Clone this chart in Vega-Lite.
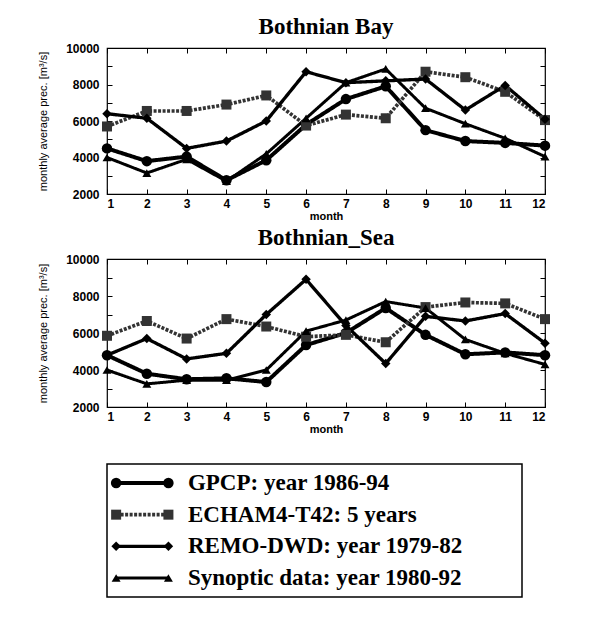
{
  "$schema": "https://vega.github.io/schema/vega-lite/v6.json",
  "padding": {"left": 37, "top": 15, "right": 5, "bottom": 5},
  "background": "white",
  "config": {
    "view": {"stroke": "black", "strokeWidth": 1.2},
    "axis": {"domain": false, "grid": false, "tickColor": "black", "tickWidth": 1, "labelColor": "black", "titleColor": "black"}
  },
  "datasets": {
    "prec": [
      {"basin":"Bay","month":1,"series":"GPCP: year 1986-94","value":4500},
      {"basin":"Bay","month":2,"series":"GPCP: year 1986-94","value":3800},
      {"basin":"Bay","month":3,"series":"GPCP: year 1986-94","value":4050},
      {"basin":"Bay","month":4,"series":"GPCP: year 1986-94","value":2750},
      {"basin":"Bay","month":5,"series":"GPCP: year 1986-94","value":3850},
      {"basin":"Bay","month":6,"series":"GPCP: year 1986-94","value":5800},
      {"basin":"Bay","month":7,"series":"GPCP: year 1986-94","value":7200},
      {"basin":"Bay","month":8,"series":"GPCP: year 1986-94","value":7900},
      {"basin":"Bay","month":9,"series":"GPCP: year 1986-94","value":5500},
      {"basin":"Bay","month":10,"series":"GPCP: year 1986-94","value":4900},
      {"basin":"Bay","month":11,"series":"GPCP: year 1986-94","value":4800},
      {"basin":"Bay","month":12,"series":"GPCP: year 1986-94","value":4650},
      {"basin":"Bay","month":1,"series":"ECHAM4-T42: 5 years","value":5700},
      {"basin":"Bay","month":2,"series":"ECHAM4-T42: 5 years","value":6550},
      {"basin":"Bay","month":3,"series":"ECHAM4-T42: 5 years","value":6550},
      {"basin":"Bay","month":4,"series":"ECHAM4-T42: 5 years","value":6900},
      {"basin":"Bay","month":5,"series":"ECHAM4-T42: 5 years","value":7400},
      {"basin":"Bay","month":6,"series":"ECHAM4-T42: 5 years","value":5750},
      {"basin":"Bay","month":7,"series":"ECHAM4-T42: 5 years","value":6350},
      {"basin":"Bay","month":8,"series":"ECHAM4-T42: 5 years","value":6150},
      {"basin":"Bay","month":9,"series":"ECHAM4-T42: 5 years","value":8700},
      {"basin":"Bay","month":10,"series":"ECHAM4-T42: 5 years","value":8400},
      {"basin":"Bay","month":11,"series":"ECHAM4-T42: 5 years","value":7600},
      {"basin":"Bay","month":12,"series":"ECHAM4-T42: 5 years","value":6050},
      {"basin":"Bay","month":1,"series":"REMO-DWD: year 1979-82","value":6400},
      {"basin":"Bay","month":2,"series":"REMO-DWD: year 1979-82","value":6150},
      {"basin":"Bay","month":3,"series":"REMO-DWD: year 1979-82","value":4500},
      {"basin":"Bay","month":4,"series":"REMO-DWD: year 1979-82","value":4900},
      {"basin":"Bay","month":5,"series":"REMO-DWD: year 1979-82","value":6000},
      {"basin":"Bay","month":6,"series":"REMO-DWD: year 1979-82","value":8700},
      {"basin":"Bay","month":7,"series":"REMO-DWD: year 1979-82","value":8100},
      {"basin":"Bay","month":8,"series":"REMO-DWD: year 1979-82","value":8200},
      {"basin":"Bay","month":9,"series":"REMO-DWD: year 1979-82","value":8300},
      {"basin":"Bay","month":10,"series":"REMO-DWD: year 1979-82","value":6600},
      {"basin":"Bay","month":11,"series":"REMO-DWD: year 1979-82","value":7950},
      {"basin":"Bay","month":12,"series":"REMO-DWD: year 1979-82","value":6100},
      {"basin":"Bay","month":1,"series":"Synoptic data: year 1980-92","value":4000},
      {"basin":"Bay","month":2,"series":"Synoptic data: year 1980-92","value":3150},
      {"basin":"Bay","month":3,"series":"Synoptic data: year 1980-92","value":3900},
      {"basin":"Bay","month":4,"series":"Synoptic data: year 1980-92","value":2700},
      {"basin":"Bay","month":5,"series":"Synoptic data: year 1980-92","value":4200},
      {"basin":"Bay","month":6,"series":"Synoptic data: year 1980-92","value":6150},
      {"basin":"Bay","month":7,"series":"Synoptic data: year 1980-92","value":8100},
      {"basin":"Bay","month":8,"series":"Synoptic data: year 1980-92","value":8850},
      {"basin":"Bay","month":9,"series":"Synoptic data: year 1980-92","value":6700},
      {"basin":"Bay","month":10,"series":"Synoptic data: year 1980-92","value":5850},
      {"basin":"Bay","month":11,"series":"Synoptic data: year 1980-92","value":5050},
      {"basin":"Bay","month":12,"series":"Synoptic data: year 1980-92","value":4050},
      {"basin":"Sea","month":1,"series":"GPCP: year 1986-94","value":4800},
      {"basin":"Sea","month":2,"series":"GPCP: year 1986-94","value":3800},
      {"basin":"Sea","month":3,"series":"GPCP: year 1986-94","value":3500},
      {"basin":"Sea","month":4,"series":"GPCP: year 1986-94","value":3550},
      {"basin":"Sea","month":5,"series":"GPCP: year 1986-94","value":3350},
      {"basin":"Sea","month":6,"series":"GPCP: year 1986-94","value":5350},
      {"basin":"Sea","month":7,"series":"GPCP: year 1986-94","value":6000},
      {"basin":"Sea","month":8,"series":"GPCP: year 1986-94","value":7350},
      {"basin":"Sea","month":9,"series":"GPCP: year 1986-94","value":5900},
      {"basin":"Sea","month":10,"series":"GPCP: year 1986-94","value":4850},
      {"basin":"Sea","month":11,"series":"GPCP: year 1986-94","value":4950},
      {"basin":"Sea","month":12,"series":"GPCP: year 1986-94","value":4800},
      {"basin":"Sea","month":1,"series":"ECHAM4-T42: 5 years","value":5850},
      {"basin":"Sea","month":2,"series":"ECHAM4-T42: 5 years","value":6650},
      {"basin":"Sea","month":3,"series":"ECHAM4-T42: 5 years","value":5700},
      {"basin":"Sea","month":4,"series":"ECHAM4-T42: 5 years","value":6750},
      {"basin":"Sea","month":5,"series":"ECHAM4-T42: 5 years","value":6350},
      {"basin":"Sea","month":6,"series":"ECHAM4-T42: 5 years","value":5800},
      {"basin":"Sea","month":7,"series":"ECHAM4-T42: 5 years","value":5900},
      {"basin":"Sea","month":8,"series":"ECHAM4-T42: 5 years","value":5500},
      {"basin":"Sea","month":9,"series":"ECHAM4-T42: 5 years","value":7400},
      {"basin":"Sea","month":10,"series":"ECHAM4-T42: 5 years","value":7650},
      {"basin":"Sea","month":11,"series":"ECHAM4-T42: 5 years","value":7600},
      {"basin":"Sea","month":12,"series":"ECHAM4-T42: 5 years","value":6750},
      {"basin":"Sea","month":1,"series":"REMO-DWD: year 1979-82","value":4800},
      {"basin":"Sea","month":2,"series":"REMO-DWD: year 1979-82","value":5700},
      {"basin":"Sea","month":3,"series":"REMO-DWD: year 1979-82","value":4600},
      {"basin":"Sea","month":4,"series":"REMO-DWD: year 1979-82","value":4900},
      {"basin":"Sea","month":5,"series":"REMO-DWD: year 1979-82","value":7000},
      {"basin":"Sea","month":6,"series":"REMO-DWD: year 1979-82","value":8900},
      {"basin":"Sea","month":7,"series":"REMO-DWD: year 1979-82","value":6400},
      {"basin":"Sea","month":8,"series":"REMO-DWD: year 1979-82","value":4350},
      {"basin":"Sea","month":9,"series":"REMO-DWD: year 1979-82","value":6900},
      {"basin":"Sea","month":10,"series":"REMO-DWD: year 1979-82","value":6650},
      {"basin":"Sea","month":11,"series":"REMO-DWD: year 1979-82","value":7050},
      {"basin":"Sea","month":12,"series":"REMO-DWD: year 1979-82","value":5450},
      {"basin":"Sea","month":1,"series":"Synoptic data: year 1980-92","value":4000},
      {"basin":"Sea","month":2,"series":"Synoptic data: year 1980-92","value":3250},
      {"basin":"Sea","month":3,"series":"Synoptic data: year 1980-92","value":3450},
      {"basin":"Sea","month":4,"series":"Synoptic data: year 1980-92","value":3450},
      {"basin":"Sea","month":5,"series":"Synoptic data: year 1980-92","value":4000},
      {"basin":"Sea","month":6,"series":"Synoptic data: year 1980-92","value":6100},
      {"basin":"Sea","month":7,"series":"Synoptic data: year 1980-92","value":6700},
      {"basin":"Sea","month":8,"series":"Synoptic data: year 1980-92","value":7700},
      {"basin":"Sea","month":9,"series":"Synoptic data: year 1980-92","value":7350},
      {"basin":"Sea","month":10,"series":"Synoptic data: year 1980-92","value":5650},
      {"basin":"Sea","month":11,"series":"Synoptic data: year 1980-92","value":4900},
      {"basin":"Sea","month":12,"series":"Synoptic data: year 1980-92","value":4300}
    ],
    "legendRows": [
      {"series":"GPCP: year 1986-94"},
      {"series":"ECHAM4-T42: 5 years"},
      {"series":"REMO-DWD: year 1979-82"},
      {"series":"Synoptic data: year 1980-92"}
    ]
  },
  "spacing": 28,
  "vconcat": [
    {
      "spacing": 4,
      "vconcat": [
        {
          "data": {"name": "prec"},
          "transform": [{"filter": "datum.basin === 'Bay'"}],
          "title": {"text": "Bothnian Bay", "font": "Liberation Serif", "fontSize": 23, "fontWeight": "bold", "color": "black", "offset": 3},
          "width": 438,
          "height": 146,
          "layer": [
            {
              "mark": {"type": "line"},
              "encoding": {
                "x": {"field": "month", "type": "quantitative", "scale": {"domain": [1, 12], "nice": false, "zero": false},
                  "axis": {"orient": "bottom", "title": "month", "values": [1,2,3,4,5,6,7,8,9,10,11,12], "tickSize": -5, "labelPadding": 9, "labelFont": "Liberation Sans", "labelFontSize": 12, "labelFontWeight": "bold", "titleFont": "Liberation Sans", "titleFontSize": 11, "titleFontWeight": "bold", "titlePadding": 1}},
                "y": {"field": "value", "type": "quantitative", "scale": {"domain": [2000, 10000], "nice": false, "zero": false},
                  "axis": {"orient": "left", "title": "monthly average prec. [m³/s]", "values": [2000,3000,4000,5000,6000,7000,8000,9000,10000], "format": "d", "labelExpr": "datum.value % 2000 === 0 ? datum.label : ''", "tickSize": -5, "labelPadding": 13, "labelFont": "Liberation Sans", "labelFontSize": 12, "labelFontWeight": "bold", "titleFont": "Liberation Sans", "titleFontSize": 11, "titleFontWeight": "normal", "titlePadding": 17}},
                "detail": {"field": "series"},
                "color": {"field": "series", "type": "nominal", "legend": null, "scale": {"domain": ["GPCP: year 1986-94","ECHAM4-T42: 5 years","REMO-DWD: year 1979-82","Synoptic data: year 1980-92"], "range": ["#000000","#333333","#000000","#000000"]}},
                "strokeWidth": {"field": "series", "type": "nominal", "legend": null, "scale": {"domain": ["GPCP: year 1986-94","ECHAM4-T42: 5 years","REMO-DWD: year 1979-82","Synoptic data: year 1980-92"], "range": [4, 3, 4, 4]}},
                "strokeDash": {"field": "series", "type": "nominal", "legend": null, "scale": {"domain": ["GPCP: year 1986-94","ECHAM4-T42: 5 years","REMO-DWD: year 1979-82","Synoptic data: year 1980-92"], "range": [[1,0],[3,1.5],[1,0],[1,0]]}}
              }
            },
            {
              "mark": {"type": "point", "filled": true, "opacity": 1},
              "encoding": {
                "x": {"field": "month", "type": "quantitative", "axis": {"orient": "top", "title": null, "labels": false, "values": [1,2,3,4,5,6,7,8,9,10,11,12], "tickSize": -5}},
                "y": {"field": "value", "type": "quantitative", "axis": {"orient": "right", "title": null, "labels": false, "values": [2000,3000,4000,5000,6000,7000,8000,9000,10000], "tickSize": -5}},
                "shape": {"field": "series", "type": "nominal", "legend": null, "scale": {"domain": ["GPCP: year 1986-94","ECHAM4-T42: 5 years","REMO-DWD: year 1979-82","Synoptic data: year 1980-92"], "range": ["circle","square","diamond","triangle-up"]}},
                "color": {"field": "series", "type": "nominal", "legend": null},
                "size": {"field": "series", "type": "nominal", "legend": null, "scale": {"domain": ["GPCP: year 1986-94","ECHAM4-T42: 5 years","REMO-DWD: year 1979-82","Synoptic data: year 1980-92"], "range": [110, 80, 110, 150]}}
              }
            }
          ],
          "resolve": {"axis": {"x": "independent", "y": "independent"}}
        },
        {
          "data": {"name": "prec"},
          "transform": [{"filter": "datum.basin === 'Sea'"}],
          "title": {"text": "Bothnian_Sea", "font": "Liberation Serif", "fontSize": 23, "fontWeight": "bold", "color": "black", "offset": 3},
          "width": 438,
          "height": 148,
          "layer": [
            {
              "mark": {"type": "line"},
              "encoding": {
                "x": {"field": "month", "type": "quantitative", "scale": {"domain": [1, 12], "nice": false, "zero": false},
                  "axis": {"orient": "bottom", "title": "month", "values": [1,2,3,4,5,6,7,8,9,10,11,12], "tickSize": -5, "labelPadding": 9, "labelFont": "Liberation Sans", "labelFontSize": 12, "labelFontWeight": "bold", "titleFont": "Liberation Sans", "titleFontSize": 11, "titleFontWeight": "bold", "titlePadding": 1}},
                "y": {"field": "value", "type": "quantitative", "scale": {"domain": [2000, 10000], "nice": false, "zero": false},
                  "axis": {"orient": "left", "title": "monthly average prec. [m³/s]", "values": [2000,3000,4000,5000,6000,7000,8000,9000,10000], "format": "d", "labelExpr": "datum.value % 2000 === 0 ? datum.label : ''", "tickSize": -5, "labelPadding": 13, "labelFont": "Liberation Sans", "labelFontSize": 12, "labelFontWeight": "bold", "titleFont": "Liberation Sans", "titleFontSize": 11, "titleFontWeight": "normal", "titlePadding": 17}},
                "detail": {"field": "series"},
                "color": {"field": "series", "type": "nominal", "legend": null},
                "strokeWidth": {"field": "series", "type": "nominal", "legend": null},
                "strokeDash": {"field": "series", "type": "nominal", "legend": null}
              }
            },
            {
              "mark": {"type": "point", "filled": true, "opacity": 1},
              "encoding": {
                "x": {"field": "month", "type": "quantitative", "axis": {"orient": "top", "title": null, "labels": false, "values": [1,2,3,4,5,6,7,8,9,10,11,12], "tickSize": -5}},
                "y": {"field": "value", "type": "quantitative", "axis": {"orient": "right", "title": null, "labels": false, "values": [2000,3000,4000,5000,6000,7000,8000,9000,10000], "tickSize": -5}},
                "shape": {"field": "series", "type": "nominal", "legend": null},
                "color": {"field": "series", "type": "nominal", "legend": null},
                "size": {"field": "series", "type": "nominal", "legend": null}
              }
            }
          ],
          "resolve": {"axis": {"x": "independent", "y": "independent"}}
        }
      ]
    },
    {
      "data": {"name": "legendRows"},
      "width": 415,
      "height": 133,
      "view": {"stroke": "black", "strokeWidth": 1.5},
      "encoding": {
        "y": {"field": "series", "type": "nominal", "axis": null, "scale": {"type": "point", "padding": 0.6, "domain": ["GPCP: year 1986-94","ECHAM4-T42: 5 years","REMO-DWD: year 1979-82","Synoptic data: year 1980-92"]}}
      },
      "layer": [
        {
          "mark": {"type": "rule"},
          "encoding": {
            "x": {"datum": 0.022, "type": "quantitative", "scale": {"domain": [0, 1], "nice": false, "zero": false}, "axis": null},
            "x2": {"datum": 0.148},
            "color": {"field": "series", "type": "nominal", "legend": null},
            "strokeWidth": {"field": "series", "type": "nominal", "legend": null},
            "strokeDash": {"field": "series", "type": "nominal", "legend": null}
          }
        },
        {
          "mark": {"type": "point", "filled": true, "opacity": 1},
          "encoding": {
            "x": {"datum": 0.022, "type": "quantitative"},
            "shape": {"field": "series", "type": "nominal", "legend": null},
            "color": {"field": "series", "type": "nominal", "legend": null},
            "size": {"field": "series", "type": "nominal", "legend": null}
          }
        },
        {
          "mark": {"type": "point", "filled": true, "opacity": 1},
          "encoding": {
            "x": {"datum": 0.148, "type": "quantitative"},
            "shape": {"field": "series", "type": "nominal", "legend": null},
            "color": {"field": "series", "type": "nominal", "legend": null},
            "size": {"field": "series", "type": "nominal", "legend": null}
          }
        },
        {
          "mark": {"type": "text", "align": "left", "baseline": "middle", "font": "Liberation Serif", "fontSize": 23, "fontWeight": "bold", "color": "black"},
          "encoding": {
            "x": {"datum": 0.195, "type": "quantitative"},
            "text": {"field": "series", "type": "nominal"}
          }
        }
      ]
    }
  ]
}
